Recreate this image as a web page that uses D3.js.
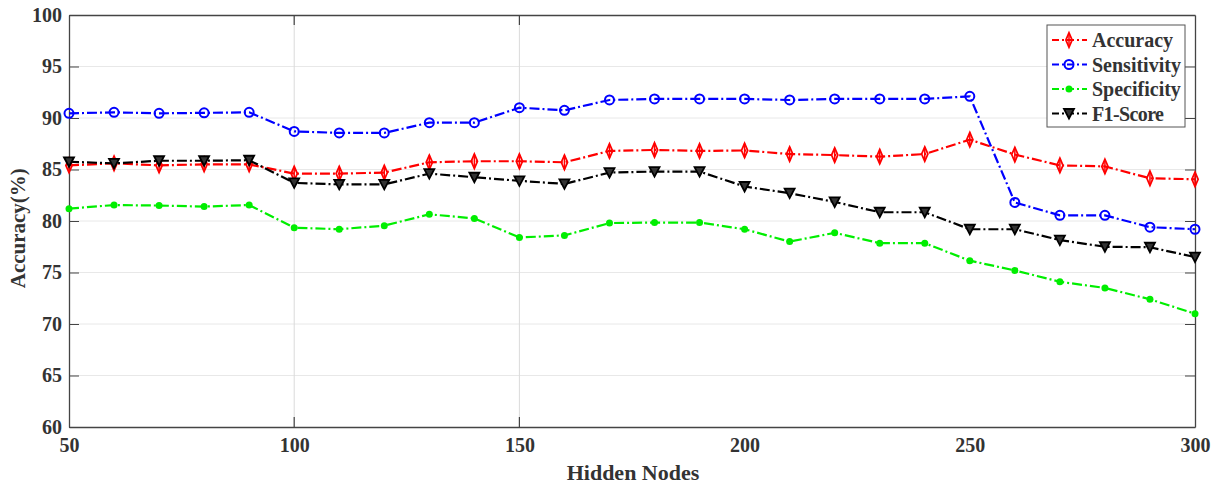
<!DOCTYPE html>
<html>
<head>
<meta charset="utf-8">
<script src="https://cdn.jsdelivr.net/npm/d3@7"></script>
<style>
  body { margin: 0; background: #fff; }
  text { font-family: "Liberation Serif", "Times New Roman", serif; font-weight: bold; fill: #333; }
</style>
</head>
<body>
<div id="chart"></div>
<script>
const nodes = [50, 60, 70, 80, 90, 100, 110, 120, 130, 140, 150, 160, 170, 180, 190, 200, 210, 220, 230, 240, 250, 260, 270, 280, 290, 300];

const accuracy = [85.4, 85.6, 85.4, 85.5, 85.5, 84.6, 84.6, 84.7, 85.7, 85.8, 85.8, 85.7, 86.8, 86.9, 86.8, 86.85, 86.5, 86.4, 86.25, 86.5, 87.9, 86.45, 85.4, 85.3, 84.15, 84.05];
const sensitivity = [90.45, 90.55, 90.45, 90.5, 90.55, 88.7, 88.55, 88.55, 89.55, 89.55, 91.0, 90.75, 91.75, 91.85, 91.85, 91.85, 91.75, 91.85, 91.85, 91.85, 92.1, 81.8, 80.55, 80.55, 79.4, 79.2];
const specificity = [81.2, 81.55, 81.5, 81.4, 81.55, 79.35, 79.2, 79.55, 80.65, 80.25, 78.4, 78.6, 79.8, 79.85, 79.85, 79.2, 78.0, 78.85, 77.85, 77.85, 76.15, 75.2, 74.1, 73.5, 72.4, 71.0];
const f1score = [85.75, 85.6, 85.85, 85.85, 85.9, 83.7, 83.55, 83.55, 84.6, 84.25, 83.9, 83.6, 84.7, 84.8, 84.8, 83.35, 82.7, 81.85, 80.85, 80.85, 79.2, 79.2, 78.15, 77.5, 77.45, 76.5];

const xTicks = [50, 100, 150, 200, 250, 300];
const yTicks = [60, 65, 70, 75, 80, 85, 90, 95, 100];
const xGridTicks = [100, 150];

const series = [
  { name: "Accuracy", values: accuracy, color: "#ff0000", marker: "diamond" },
  { name: "Sensitivity", values: sensitivity, color: "#0000ff", marker: "circle" },
  { name: "Specificity", values: specificity, color: "#00ee00", marker: "dot" },
  { name: "F1-Score", values: f1score, color: "#000000", marker: "triangle" }
];

const width = 1219, height = 485;
const margin = { top: 15, right: 24, bottom: 58, left: 69 };

const svg = d3.select("#chart").append("svg")
  .attr("width", width)
  .attr("height", height);

const x = d3.scaleLinear().domain([50, 300]).range([margin.left, width - margin.right]);
const y = d3.scaleLinear().domain([60, 100]).range([height - margin.bottom, margin.top]);

// grid
svg.append("g")
  .selectAll("line")
  .data(yTicks.slice(1, -1))
  .join("line")
    .attr("x1", x(50)).attr("x2", x(300))
    .attr("y1", d => y(d)).attr("y2", d => y(d))
    .attr("stroke", "#e8e8e8").attr("stroke-width", 1);

svg.append("g")
  .selectAll("line")
  .data(xGridTicks)
  .join("line")
    .attr("x1", d => x(d)).attr("x2", d => x(d))
    .attr("y1", y(60)).attr("y2", y(100))
    .attr("stroke", "#dadada").attr("stroke-width", 1);

// axes
const axisColor = "#444";
const yLeft = svg.append("g")
  .attr("transform", `translate(${x(50)},0)`)
  .call(d3.axisLeft(y).tickValues(yTicks).tickSizeInner(-10).tickSizeOuter(0).tickPadding(7));
const yRight = svg.append("g")
  .attr("transform", `translate(${x(300)},0)`)
  .call(d3.axisRight(y).tickValues(yTicks).tickSizeInner(-10).tickSizeOuter(0).tickFormat(""));
const xBottom = svg.append("g")
  .attr("transform", `translate(0,${y(60)})`)
  .call(d3.axisBottom(x).tickValues(xTicks).tickSize(0).tickPadding(11));
xBottom.selectAll(".tick line").remove();
const xTop = svg.append("g")
  .attr("transform", `translate(0,${y(100)})`)
  .call(d3.axisTop(x).tickValues(xTicks).tickSize(0).tickFormat(""));

// inward x ticks where the reference shows them
[y(60), y(100)].forEach((yy, i) => {
  svg.append("g").selectAll("line")
    .data(xGridTicks)
    .join("line")
      .attr("x1", d => x(d)).attr("x2", d => x(d))
      .attr("y1", yy).attr("y2", i === 0 ? yy - 10 : yy + 10)
      .attr("stroke", axisColor).attr("stroke-width", 1.2);
});

[yLeft, yRight, xBottom, xTop].forEach(g => {
  g.select(".domain").attr("stroke", axisColor).attr("stroke-width", 1.3);
  g.selectAll(".tick line").attr("stroke", axisColor);
  g.selectAll("text").attr("font-size", 20).attr("font-family", "Liberation Serif, serif")
    .attr("font-weight", "bold").attr("fill", "#333");
});
xBottom.selectAll("text").attr("dy", "0.71em");

// axis titles
svg.append("text")
  .attr("x", 633)
  .attr("y", 480)
  .attr("text-anchor", "middle")
  .attr("font-size", 22)
  .text("Hidden Nodes");

svg.append("text")
  .attr("transform", `translate(25,${y(79.3)}) rotate(-90)`)
  .attr("text-anchor", "middle")
  .attr("font-size", 21)
  .text("Accuracy(%)");

// lines
const line = d3.line()
  .x((d, i) => x(nodes[i]))
  .y(d => y(d));

const dash = "10,3,2,3";

function drawMarker(g, type, color) {
  if (type === "diamond") {
    g.append("path")
      .attr("d", d3.symbol(d3.symbolDiamond, 60)())
      .attr("transform", "scale(0.75,1)")
      .attr("fill", "none").attr("stroke", color).attr("stroke-width", 2.2);
    g.append("line").attr("x1", 0).attr("x2", 0).attr("y1", -7).attr("y2", 7)
      .attr("stroke", color).attr("stroke-width", 1.5);
  } else if (type === "circle") {
    g.append("circle").attr("r", 4.5)
      .attr("fill", "none").attr("stroke", color).attr("stroke-width", 2);
  } else if (type === "dot") {
    g.append("circle").attr("r", 3.5).attr("fill", color);
  } else if (type === "triangle") {
    g.append("path")
      .attr("d", "M-5,-4.5L5,-4.5L0,5Z")
      .attr("fill", "#333").attr("stroke", color).attr("stroke-width", 1.8);
  }
}

series.forEach(s => {
  svg.append("path")
    .datum(s.values)
    .attr("d", line)
    .attr("fill", "none")
    .attr("stroke", s.color)
    .attr("stroke-width", 2.2)
    .attr("stroke-dasharray", dash);

  svg.append("g")
    .selectAll("g")
    .data(s.values)
    .join("g")
      .attr("transform", (d, i) => `translate(${x(nodes[i])},${y(d)})`)
      .each(function() { drawMarker(d3.select(this), s.marker, s.color); });
});

// legend
const lg = svg.append("g").attr("transform", "translate(1047,25)");
lg.append("rect")
  .attr("width", 138).attr("height", 102)
  .attr("fill", "#fff").attr("stroke", "#555").attr("stroke-width", 1);

series.forEach((s, i) => {
  const row = lg.append("g").attr("transform", `translate(0,${15 + i * 24.5})`);
  row.append("line")
    .attr("x1", 5).attr("x2", 40)
    .attr("stroke", s.color).attr("stroke-width", 2.2)
    .attr("stroke-dasharray", "7,3,2,3");
  const m = row.append("g").attr("transform", "translate(22,0)");
  drawMarker(m, s.marker, s.color);
  row.append("text")
    .attr("x", 45).attr("dy", "0.35em")
    .attr("font-size", 20)
    .attr("textLength", i === 3 ? 72 : null)
    .text(s.name);
});
</script>
</body>
</html>
